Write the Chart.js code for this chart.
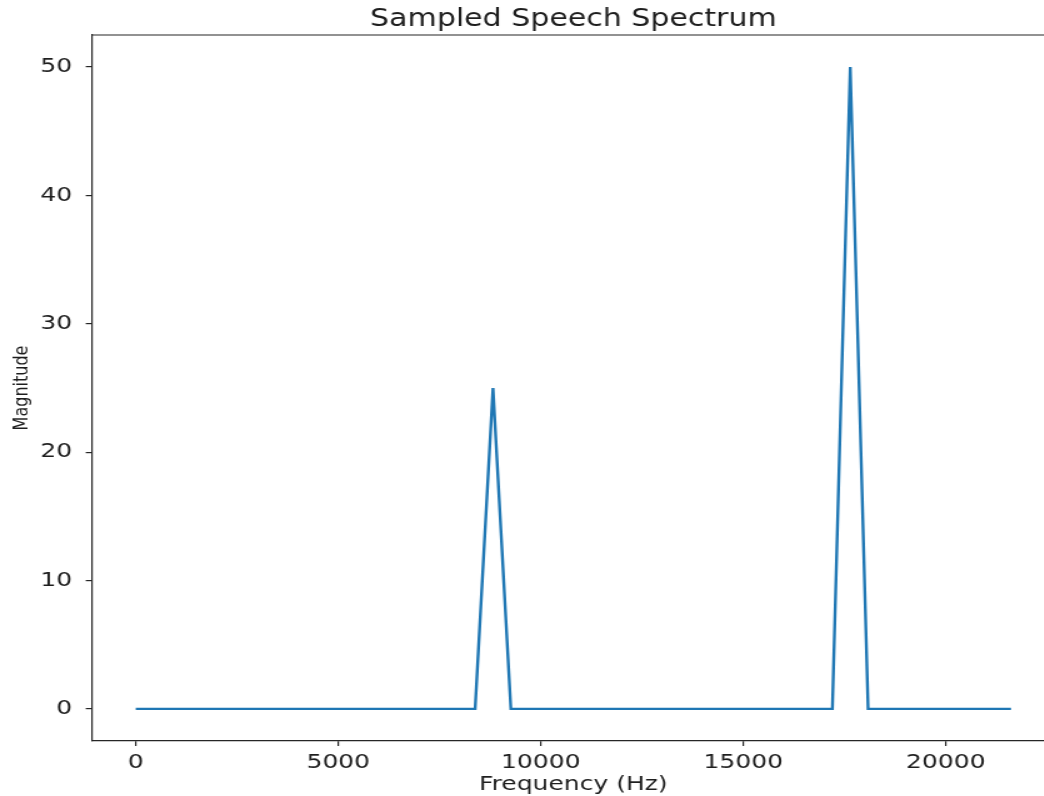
<!DOCTYPE html>
<html>
<head>
<meta charset="utf-8">
<script src="https://cdn.jsdelivr.net/npm/chart.js@4.4.1/dist/chart.umd.min.js"></script>
<style>
  html, body { margin: 0; padding: 0; background: #ffffff; overflow: hidden; width: 1044px; height: 796px; }
  #wrap { position: absolute; left: 0; top: 0; width: 845px; height: 796px; transform: scaleX(1.25); transform-origin: 0 0; }
</style>
</head>
<body>
<div id="wrap"><canvas id="c"></canvas></div>
<script>
// Data
const frequencies = [0, 8379, 8820, 9261, 17199, 17640, 18081, 21609];
const magnitudes  = [0, 0, 25, 0, 0, 50, 0, 0];
const xTickValues = [0, 5000, 10000, 15000, 20000];
const yTickValues = [0, 10, 20, 30, 40, 50];
const titleText = 'Sampled Speech Spectrum';
const xLabel = 'Frequency (Hz)';
const yLabel = 'Magnitude';

const points = frequencies.map((f, i) => ({ x: f, y: magnitudes[i] }));
const textColor = '#1e1e1e';
const spineColor = '#262626';

// top spine only (the right spine lies outside the visible picture)
const frame = {
  id: 'frame',
  afterDatasetsDraw(chart) {
    const a = chart.chartArea;
    const ctx = chart.ctx;
    ctx.save();
    ctx.strokeStyle = spineColor;
    ctx.lineWidth = 1.2;
    ctx.beginPath();
    ctx.moveTo(a.left, a.top);
    ctx.lineTo(a.right, a.top);
    ctx.stroke();
    ctx.restore();
  }
};

new Chart(document.getElementById('c'), {
  type: 'line',
  data: {
    datasets: [{
      data: points,
      borderColor: '#1f77b4',
      borderWidth: 2.4,
      pointRadius: 0,
      tension: 0,
      fill: false
    }]
  },
  options: {
    responsive: true,
    maintainAspectRatio: false,
    animation: false,
    layout: { padding: { left: 0, right: 0, top: 0, bottom: 0 } },
    plugins: {
      legend: { display: false },
      tooltip: { enabled: false },
      title: {
        display: true,
        text: titleText,
        fullSize: false,
        color: textColor,
        font: { family: 'DejaVu Sans', size: 24, weight: 'normal', lineHeight: 1.2 },
        padding: { top: 5.5, bottom: 0.7 }
      }
    },
    scales: {
      x: {
        type: 'linear',
        min: -1080,
        max: 22689,
        afterBuildTicks(scale) { scale.ticks = xTickValues.map(v => ({ value: v })); },
        afterFit(scale) { scale.height = 55; },
        grid: { display: true, drawOnChartArea: false, drawTicks: true, tickLength: 5, color: spineColor, lineWidth: 1.2 },
        border: { display: true, color: spineColor, width: 1.2 },
        ticks: {
          color: textColor,
          padding: 5,
          maxRotation: 0,
          autoSkip: false,
          font: { family: 'DejaVu Sans', size: 20, lineHeight: 1.2 },
          callback: (v) => String(v)
        },
        title: {
          display: true,
          text: xLabel,
          color: textColor,
          font: { family: 'DejaVu Sans', size: 20, lineHeight: 1.0 },
          padding: { top: 0, bottom: 1 }
        }
      },
      y: {
        type: 'linear',
        min: -2.5,
        max: 52.5,
        afterBuildTicks(scale) { scale.ticks = yTickValues.map(v => ({ value: v })); },
        afterFit(scale) { scale.width = 73.6; },
        grid: { display: true, drawOnChartArea: false, drawTicks: true, tickLength: 5, color: spineColor, lineWidth: 1.2 },
        border: { display: true, color: spineColor, width: 1.2 },
        ticks: {
          color: textColor,
          padding: 11,
          autoSkip: false,
          font: { family: 'DejaVu Sans', size: 20, lineHeight: 1.2 },
          callback: (v) => String(v)
        },
        title: {
          display: true,
          text: yLabel,
          color: textColor,
          font: { family: 'DejaVu Sans', size: 16, lineHeight: 1.2 },
          padding: { top: 8, bottom: 0 }
        }
      }
    }
  },
  plugins: [frame]
});
</script>
</body>
</html>
